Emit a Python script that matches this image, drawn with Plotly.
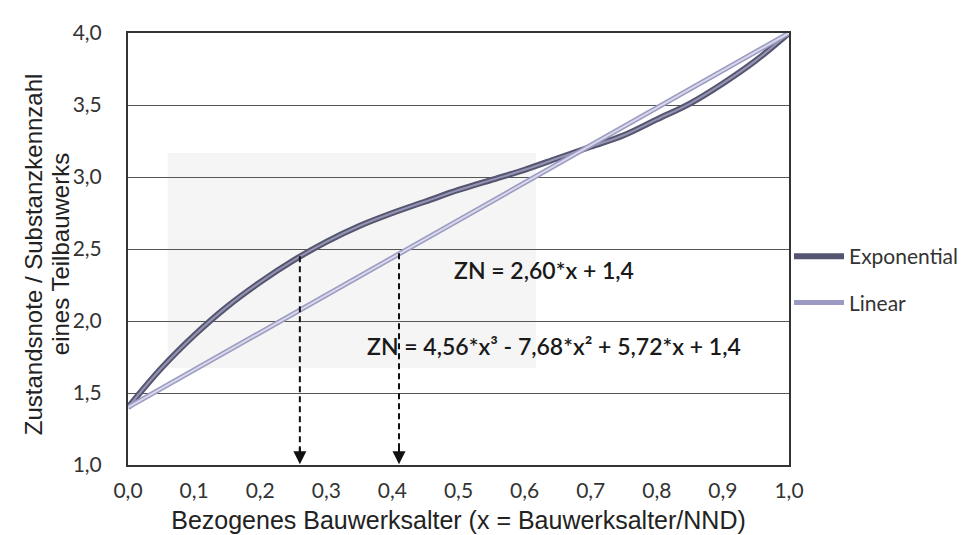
import plotly.graph_objects as go

# x positions (relative structure age) and read-off values
x_vals = [0.00, 0.05, 0.10, 0.15, 0.20, 0.25, 0.30, 0.35, 0.40, 0.45, 0.50,
          0.55, 0.60, 0.65, 0.70, 0.75, 0.80, 0.85, 0.90, 0.95, 1.00]
exponential = [1.40, 1.67, 1.90, 2.10, 2.27, 2.42, 2.55, 2.66, 2.75, 2.83, 2.91,
               2.98, 3.05, 3.13, 3.21, 3.29, 3.40, 3.51, 3.65, 3.81, 4.00]
x_lin = [0.0, 0.1, 0.2, 0.3, 0.4, 0.5, 0.6, 0.7, 0.8, 0.9, 1.0]
linear = [1.40, 1.66, 1.92, 2.18, 2.44, 2.70, 2.96, 3.22, 3.48, 3.74, 4.00]

x_ticks = [0.0, 0.1, 0.2, 0.3, 0.4, 0.5, 0.6, 0.7, 0.8, 0.9, 1.0]
y_ticks = [1.0, 1.5, 2.0, 2.5, 3.0, 3.5, 4.0]

# arrows: (x, y of curve)
arrow_exp = (0.26, 2.45)
arrow_lin = (0.41, 2.47)

eq_linear = "ZN = 2,60*x + 1,4"
eq_cubic = "ZN = 4,56*x³ - 7,68*x² + 5,72*x + 1,4"
x_title = "Bezogenes Bauwerksalter (x = Bauwerksalter/NND)"
y_title_1 = "Zustandsnote / Substanzkennzahl"
y_title_2 = "eines Teilbauwerks"

fig = go.Figure()

# Exponential (cubic) curve: dark band with lighter core
fig.add_trace(go.Scatter(x=x_vals, y=exponential, mode="lines", name="Exponential",
                         line=dict(color="#55556f", width=6, shape="spline"),
                         legendgroup="a"))
fig.add_trace(go.Scatter(x=x_vals, y=exponential, mode="lines", showlegend=False,
                         line=dict(color="#9494b4", width=2, shape="spline"),
                         hoverinfo="skip", legendgroup="a"))
# Linear curve: lighter band
fig.add_trace(go.Scatter(x=x_lin, y=linear, mode="lines", name="Linear",
                         line=dict(color="#9a9ac2", width=5),
                         legendgroup="b"))
fig.add_trace(go.Scatter(x=x_lin, y=linear, mode="lines", showlegend=False,
                         line=dict(color="#d8d8ea", width=2),
                         hoverinfo="skip", legendgroup="b"))

shapes = [
    dict(type="rect", xref="x", yref="y", x0=0.06, x1=0.617, y0=1.674, y1=3.167,
         fillcolor="#f5f5f5", line=dict(width=0), layer="below"),
]
annotations = []
for (ax_x, ax_y) in [arrow_exp, arrow_lin]:
    shapes.append(dict(type="line", xref="x", yref="y", x0=ax_x, x1=ax_x,
                       y0=ax_y, y1=1.06, line=dict(color="#111", width=2, dash="6px,4px")))
    annotations.append(dict(x=ax_x, y=1.005, xref="x", yref="y", text="", showarrow=True,
                            ax=0, ay=-18, arrowhead=2, arrowsize=1.3, arrowwidth=2,
                            arrowcolor="#111"))

annotations.append(dict(x=0.630, y=2.354, xref="x", yref="y", text=eq_linear, showarrow=False,
                        font=dict(family="Lato", size=23, color="#1a1a1a", weight=600)))
annotations.append(dict(x=0.645, y=1.826, xref="x", yref="y", text=eq_cubic, showarrow=False,
                        font=dict(family="Lato", size=23, color="#1a1a1a", weight=600)))

# y axis title: two lines, placed as rotated text
yt_font = dict(family="Liberation Sans", size=24, color="#222")
annotations.append(dict(x=-0.1437, y=0.488, xref="paper", yref="paper", text=y_title_1,
                        textangle=-90, showarrow=False, font=yt_font,
                        xanchor="center", yanchor="middle"))
annotations.append(dict(x=-0.1029, y=0.488, xref="paper", yref="paper", text=y_title_2,
                        textangle=-90, showarrow=False, font=yt_font,
                        xanchor="center", yanchor="middle"))

fig.update_layout(
    width=969, height=535,
    margin=dict(l=120, r=188, t=25, b=78),
    paper_bgcolor="white", plot_bgcolor="white",
    separators=",.",
    shapes=shapes, annotations=annotations,
    showlegend=True,
    legend=dict(x=1.0, y=0.53, xanchor="left", yanchor="top", itemwidth=50,
                font=dict(family="Lato", size=21, color="#333"),
                traceorder="grouped", tracegroupgap=16, bgcolor="rgba(0,0,0,0)"),
)
fig.update_xaxes(range=[0, 1], tickvals=x_ticks, tickformat=".1f",
                 showgrid=False, zeroline=False, automargin=False,
                 showline=True, mirror=True, linecolor="#333", linewidth=2,
                 ticks="", ticklabelstandoff=6,
                 tickfont=dict(family="Lato", size=21, color="#333"),
                 title=dict(text=x_title,
                            font=dict(family="Liberation Sans", size=25, color="#222"),
                            standoff=10))
fig.update_yaxes(range=[1, 4], tickvals=y_ticks, tickformat=".1f",
                 showgrid=True, gridcolor="#555", gridwidth=1, zeroline=False,
                 automargin=False,
                 showline=True, mirror=True, linecolor="#333", linewidth=2,
                 ticks="", ticklabelstandoff=20,
                 tickfont=dict(family="Lato", size=21, color="#333"))

fig.write_html("out.html")
